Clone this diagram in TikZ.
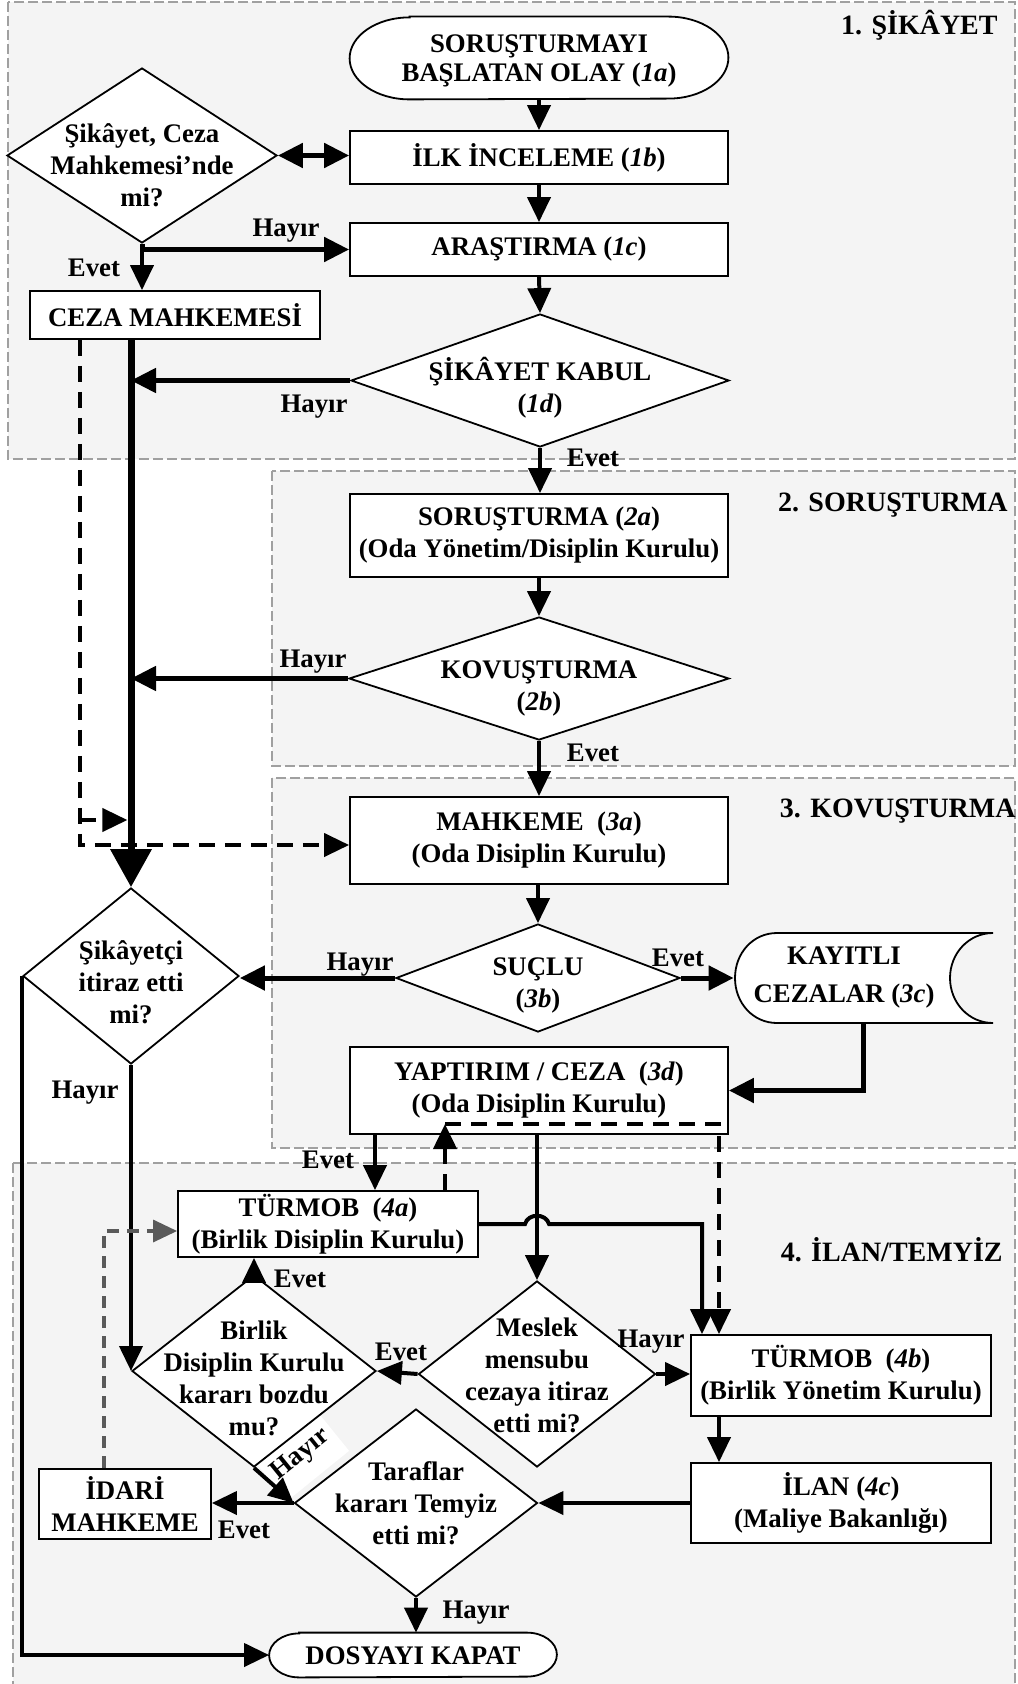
\documentclass[tikz,border=0pt]{standalone}
\usepackage{fontspec}
\setmainfont{Liberation Serif}
\usetikzlibrary{shapes.geometric,arrows.meta,calc}
\definecolor{panelfill}{RGB}{244,244,244}
\definecolor{panelline}{RGB}{160,160,160}
\definecolor{graydash}{RGB}{90,90,90}
\begin{document}
\begin{tikzpicture}[x=0.5pt,y=-0.5pt,
  every node/.style={font=\fontsize{13.4}{16}\selectfont\bfseries},
  panel/.style={fill=panelfill, draw=panelline, line width=1.2pt, dash pattern=on 5pt off 2pt},
  box/.style={draw, fill=white, line width=0.9pt, inner sep=0pt, align=center},
  shp/.style={draw, fill=white, line width=0.9pt},
  dia/.style={diamond, draw, fill=white, line width=0.9pt, inner sep=0pt},
  txt/.style={align=center, inner sep=0pt},
  lbl/.style={inner sep=0pt},
  sec/.style={inner sep=0pt, anchor=east, font=\fontsize{14}{16}\selectfont\bfseries},
  arr/.style={line width=2pt, -{Triangle[length=12.5pt,width=11.5pt]}},
  tarr/.style={line width=2.5pt, -{Triangle[length=12.5pt,width=12pt]}},
  dsh/.style={line width=2pt, dash pattern=on 8pt off 5pt, -{Triangle[length=12.5pt,width=11.5pt]}},
  gdsh/.style={line width=1.6pt, draw=graydash, dash pattern=on 6pt off 4pt, -{Triangle[length=12pt,width=11pt]}, graydash},
]
\useasboundingbox (0,0) rectangle (1017,1684);
% panels
\draw[panel] (8,2) rectangle (1015,459);
\draw[panel] (272,471) rectangle (1015,766);
\draw[panel] (272,778) rectangle (1015,1148);
\draw[panel] (13,1163) rectangle (1015,1720);
\node[sec] (s1) at (998,25) {1. ŞİKÂYET};
\node[sec] (s2) at (1008,505) {2. SORUŞTURMA};
\node[sec] (s3) at (1016,811) {3. KOVUŞTURMA};
\node[sec] (s4) at (1003,1250) {4. İLAN/TEMYİZ};
% rotated label with white box
\node[lbl, fill=white, rotate=39, minimum width=40pt, minimum height=27pt] (hr) at (301,1455) {Hayır};
% column coordinates
\coordinate (cA) at (375,0);
\coordinate (cB) at (702,0);
\coordinate (cC) at (719,0);
\coordinate (cD) at (445,0);
% terminal 1a
\node[minimum width=189pt, minimum height=41pt, inner sep=0pt] (t1a) at (539,58) {};
\draw[shp] ($(t1a.north west)+(60,0)$) -- ($(t1a.north east)+(-60,0)$)
  arc[start angle=90,end angle=-90,x radius=30pt,y radius=20.5pt]
  -- ($(t1a.south west)+(60,0)$)
  arc[start angle=270,end angle=90,x radius=30pt,y radius=20.5pt] -- cycle;
\node[txt, font=\fontsize{13.4}{14.5}\selectfont\bfseries] (t1at) at (539,61) {SORUŞTURMAYI\\BAŞLATAN OLAY (\textit{1a})};
% boxes
\node[box, minimum width=189pt, minimum height=26.5pt] (b1b) at (539,157.5) {İLK İNCELEME (\textit{1b})};
\node[box, minimum width=189pt, minimum height=26.5pt] (b1c) at (539,249.5) {ARAŞTIRMA (\textit{1c})};
\node[box, minimum width=145pt, minimum height=24pt] (cz) at (175,315) {CEZA MAHKEMESİ};
\node[box, minimum width=189pt, minimum height=41.5pt] (b2a) at (539,535.5) {SORUŞTURMA (\textit{2a})\\(Oda Yönetim/Disiplin Kurulu)};
\node[box, minimum width=189pt, minimum height=43.5pt] (b3a) at (539,840.5) {MAHKEME~~(\textit{3a})\\(Oda Disiplin Kurulu)};
\node[box, minimum width=189pt, minimum height=43.5pt] (b3d) at (539,1090.5) {YAPTIRIM / CEZA~~(\textit{3d})\\(Oda Disiplin Kurulu)};
\node[box, minimum width=150pt, minimum height=33pt] (b4a) at (328,1224) {TÜRMOB~~(\textit{4a})\\(Birlik Disiplin Kurulu)};
\node[box, minimum width=150pt, minimum height=40.5pt] (b4b) at (841,1375.5) {TÜRMOB~~(\textit{4b})\\(Birlik Yönetim Kurulu)};
\node[box, minimum width=150pt, minimum height=40pt] (b4c) at (841,1503) {İLAN (\textit{4c})\\(Maliye Bakanlığı)};
\node[box, minimum width=86pt, minimum height=35pt] (bim) at (125,1504) {İDARİ\\MAHKEME};
% stored data 3c
\node[minimum width=129pt, minimum height=45pt, inner sep=0pt] (kc) at (863,978) {};
\draw[shp] (777,933) -- (993,933) .. controls (969,933) and (950,953) .. (950,978)
  .. controls (950,1003) and (969,1023) .. (993,1023) -- (777,1023)
  .. controls (753,1023) and (735,1003) .. (735,978)
  .. controls (735,953) and (753,933) .. (777,933) -- cycle;
\node[txt, font=\fontsize{13.4}{19}\selectfont\bfseries] (kct) at (844,977) {KAYITLI\\CEZALAR (\textit{3c})};
% terminal end
\node[minimum width=143.5pt, minimum height=22pt, inner sep=0pt] (dk) at (413,1655) {};
\draw[shp] ($(dk.north west)+(30,0)$) -- ($(dk.north east)+(-30,0)$)
  arc[start angle=90,end angle=-90,x radius=15pt,y radius=11pt]
  -- ($(dk.south west)+(30,0)$)
  arc[start angle=270,end angle=90,x radius=15pt,y radius=11pt] -- cycle;
\node[txt] (dkt) at (413,1656) {DOSYAYI KAPAT};
% diamonds
\node[dia, minimum width=135pt, minimum height=87.5pt] (d1) at (142,155.5) {};
\node[txt] (d1t) at (142,165) {Şikâyet, Ceza\\Mahkemesi’nde\\mi?};
\node[dia, minimum width=189pt, minimum height=66.5pt] (d1d) at (540,380.5) {};
\node[txt] (d1dt) at (540,388) {ŞİKÂYET KABUL\\(\textit{1d})};
\node[dia, minimum width=190pt, minimum height=61.5pt] (d2b) at (539,678.5) {};
\node[txt] (d2bt) at (539,688) {KOVUŞTURMA\\(\textit{2b})};
\node[dia, minimum width=142pt, minimum height=54pt] (d3b) at (538,978) {};
\node[txt] (d3bt) at (538,985) {SUÇLU\\(\textit{3b})};
\node[dia, minimum width=108pt, minimum height=88pt] (dq) at (131,976) {};
\node[txt] (dqt) at (131,982) {Şikâyetçi\\itiraz etti\\mi?};
\node[dia, minimum width=122pt, minimum height=96pt] (dbk) at (254,1371) {};
\node[txt] (dbkt) at (254,1378) {Birlik\\Disiplin Kurulu\\kararı bozdu\\mu?};
\node[dia, minimum width=118.5pt, minimum height=93pt] (dmm) at (537,1374) {};
\node[txt] (dmmt) at (537,1375) {Meslek\\mensubu\\cezaya itiraz\\etti mi?};
\node[dia, minimum width=121.5pt, minimum height=94pt] (dtt) at (416,1503) {};
\node[txt] (dttt) at (416,1503) {Taraflar\\kararı Temyiz\\etti mi?};
% connectors section 1
\draw[arr] (t1a.south) -- (b1b.north);
\draw[arr] (b1b.south) -- (b1c.north);
\draw[arr] (b1c.south) -- (d1d.north);
\draw[line width=2.5pt, {Triangle[length=12.5pt,width=12pt]}-{Triangle[length=12.5pt,width=12pt]}] (d1.east) -- (d1.east -| b1b.west);
\draw[tarr] (d1.south) |- (b1c.west);
\draw[arr] (d1.south) -- (d1.south |- cz.north);
% dashed from Ceza Mahkemesi
\coordinate (cd) at (80,845);
\coordinate (cb) at (80,820);
\draw[dsh] (cd |- cz.south) -- (cd) -- (cd -| b3a.west);
\draw[dsh, shorten >=1.8pt] (cb) -- (cb -| dq.north);
% trunk
\draw[line width=3.5pt, -{Triangle[length=19pt,width=20pt]}] (dq.north |- cz.south) -- (dq.north);
\draw[tarr] (d1d.west) -- (d1d.west -| dq.north);
\draw[tarr] (d2b.west) -- (d2b.west -| dq.north);
% sections 2,3
\draw[arr] (d1d.south) -- (d1d.south |- b2a.north);
\draw[arr] (b2a.south) -- (d2b.north);
\draw[arr] (d2b.south) -- (b3a.north);
\draw[arr] (b3a.south) -- (d3b.north |- b3a.south) -- (d3b.north);
\draw[tarr] (d3b.west) -- (d3b.west -| dq.east);
\draw[tarr] (d3b.east) -- (kc.west);
\draw[tarr] (kc.south) |- (b3d.east);
% section 4
\draw[arr] (cA |- b3d.south) -- (cA |- b4a.north);
\draw[arr] (b3d.south -| dmm.north) -- (dmm.north);
\draw[arr] (b4a.east) -- ($(dmm.north |- b4a.east)+(-12,0)$)
  .. controls +(3,-11) and +(-3,-11) .. ($(dmm.north |- b4a.east)+(12,0)$)
  -| (cB |- b4b.north);
\coordinate (cu) at (445,1124);
\coordinate (cv) at (719,1124);
\draw[dsh] (cu |- b4a.north) -- (cu);
\draw[dsh] (cu) -- (cv) -- (cv |- b4b.north);
\draw[arr] (cC |- b4b.south) -- (cC |- b4c.north);
\draw[arr] (b4c.west) -- (dtt.east);
\draw[arr] (dtt.west) -- (dtt.west -| bim.east);
\draw[arr] (dbk.south) -- (dtt.west);
\draw[arr] (dbk.north) -- (dbk.north |- b4a.south);
\draw[arr] (dmm.west) -- (dbk.east);
\draw[arr] (dmm.east) -- (dmm.east -| b4b.west);
\draw[arr] (dq.south) -- (dq.south |- dbk.west);
\draw[arr] (dq.west) |- (dk.west);
\draw[arr] (dtt.south) -- (dtt.south |- dk.north);
\coordinate (cg) at (104,1231);
\draw[gdsh] (cg |- bim.north) -- (cg) -- (cg -| b4a.west);
% labels
\node[lbl] (h1) at (286,231) {Hayır};
\node[lbl] (e1) at (94,268) {Evet};
\node[lbl] (h2) at (314,407) {Hayır};
\node[lbl] (e2) at (593,458) {Evet};
\node[lbl] (h3) at (313,662) {Hayır};
\node[lbl] (e3) at (593,753) {Evet};
\node[lbl] (h4) at (360,965) {Hayır};
\node[lbl] (e4) at (678,958) {Evet};
\node[lbl] (h5) at (85,1093) {Hayır};
\node[lbl] (e5) at (328,1160) {Evet};
\node[lbl] (e6) at (300,1279) {Evet};
\node[lbl] (e7) at (401,1352) {Evet};
\node[lbl] (h6) at (651,1342) {Hayır};
\node[lbl] (e8) at (244,1530) {Evet};
\node[lbl] (h7) at (476,1613) {Hayır};
\end{tikzpicture}
\end{document}
